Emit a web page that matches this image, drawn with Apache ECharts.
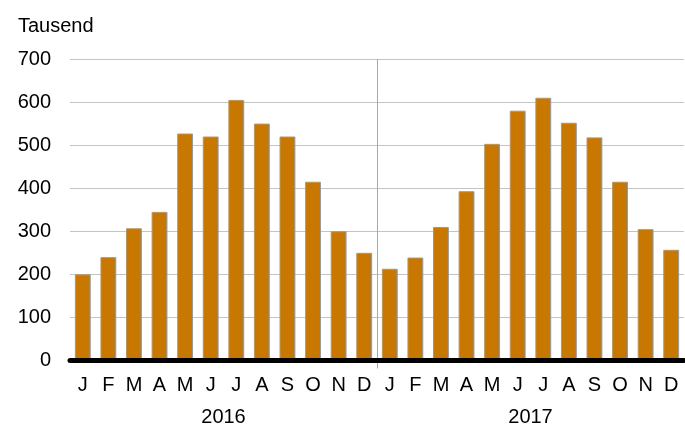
<!DOCTYPE html>
<html><head><meta charset="utf-8">
<script src="https://cdn.jsdelivr.net/npm/echarts@6/dist/echarts.min.js"></script>
<style>html,body{margin:0;padding:0;background:#fff}#c{width:685px;height:429px}</style>
</head><body><div id="c"></div>
<script>
const months = ['J','F','M','A','M','J','J','A','S','O','N','D','J','F','M','A','M','J','J','A','S','O','N','D'];
const years = ['2016','2017'];
const values2016 = [200,240,307,345,527,520,605,550,520,415,300,250];
const values2017 = [213,239,310,393,503,580,610,552,518,415,305,257];
const yTicks = {min:0, max:700, interval:100};
const unitLabel = 'Tausend';

const chart = echarts.init(document.getElementById('c'), null, {renderer:'canvas'});
const font = 'Liberation Sans, Arial, sans-serif';
chart.setOption({
  animation:false,
  backgroundColor:'#fff',
  title:{text:unitLabel, left:13, top:11, textStyle:{fontFamily:font, fontSize:20, fontWeight:'normal', color:'#000'}},
  grid:{left:70, right:1, top:59, bottom:68.5, containLabel:false},
  xAxis:[
    {type:'category', data:months.map((m,i)=>i), position:'bottom', z:5,
     axisLine:{show:true, lineStyle:{color:'#000', width:5}},
     axisTick:{show:false},
     axisLabel:{formatter:(v)=>months[+v], interval:0, margin:15, fontFamily:font, fontSize:20, color:'#000'}},
    {type:'category', data:years, position:'bottom', offset:39, z:1,
     axisLine:{show:false},
     axisTick:{show:false},
     axisLabel:{fontFamily:font, fontSize:20, color:'#000'}},
    {type:'value', min:0, max:24, interval:12, position:'bottom', z:1,
     axisLine:{show:false},
     axisTick:{show:true, length:8, customValues:[12], lineStyle:{color:'#a8a8a8', width:1}},
     axisLabel:{show:false},
     splitLine:{show:true, lineStyle:{color:'#a8a8a8', width:1}}}
  ],
  yAxis:{type:'value', min:yTicks.min, max:yTicks.max, interval:yTicks.interval,
    axisLine:{show:false}, axisTick:{show:false},
    axisLabel:{margin:19, fontFamily:font, fontSize:20, color:'#000'},
    splitLine:{lineStyle:{color:'#c4c4c4', width:1}}},
  series:[
    {type:'bar', xAxisIndex:0, data:values2016.concat(values2017), barCategoryGap:'38%',
     itemStyle:{color:'#C87800', borderColor:'#999', borderWidth:1}}
  ]
});
</script></body></html>
